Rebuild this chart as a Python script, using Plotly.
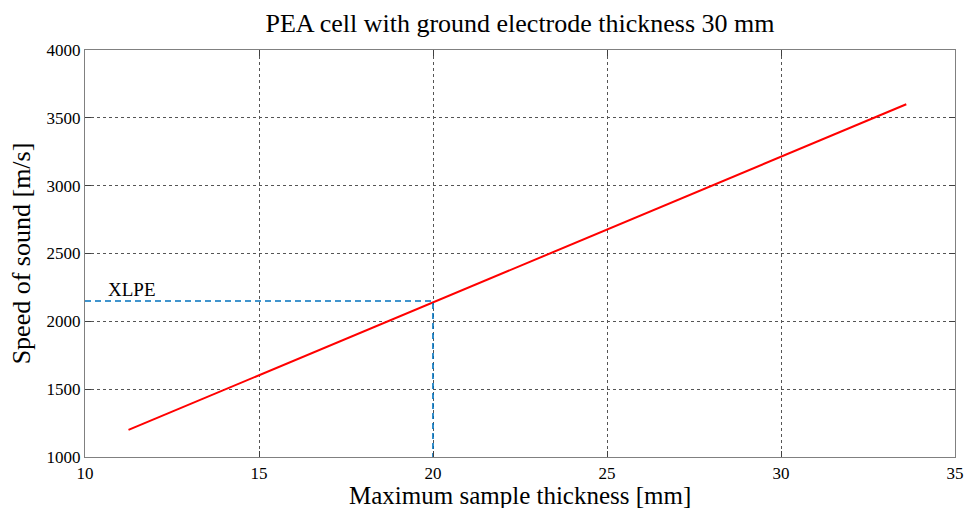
import plotly.graph_objects as go

# Sample thickness [mm] vs. speed of sound [m/s]
thickness_mm = [11.25, 33.6]
speed_ms = [1200, 3600]

# XLPE reference point
xlpe_thickness = 20
xlpe_speed = 2150
xlpe_label = "XLPE"

x_range = [10, 35]
y_range = [1000, 4000]
x_ticks = [10, 15, 20, 25, 30, 35]
y_ticks = [1000, 1500, 2000, 2500, 3000, 3500, 4000]

FONT = "Liberation Serif"
BLUE = "#0072BD"

fig = go.Figure()

fig.add_trace(go.Scatter(
    x=thickness_mm, y=speed_ms, mode="lines",
    line=dict(color="#FF0000", width=2), showlegend=False,
))

# dashed guide lines for XLPE
fig.add_trace(go.Scatter(
    x=[x_range[0], xlpe_thickness, xlpe_thickness],
    y=[xlpe_speed, xlpe_speed, y_range[0]],
    mode="lines", line=dict(color=BLUE, width=1.6, dash="6px,4px"),
    showlegend=False,
))

fig.add_annotation(
    x=10.6, y=xlpe_speed, text=xlpe_label, showarrow=False,
    xanchor="left", yanchor="bottom", yshift=-1,
    font=dict(family=FONT, size=19, color="black"),
)

axis_common = dict(
    showline=True, linecolor="#808080", linewidth=1.2, mirror="ticks",
    ticks="inside", ticklen=6, tickcolor="#404040", tickwidth=1,
    showgrid=True, gridcolor="#555555", griddash="dot", gridwidth=1,
    zeroline=False, automargin=False,
    tickfont=dict(family=FONT, size=17, color="black"),
)

fig.update_xaxes(range=x_range, tickvals=x_ticks, **axis_common)
fig.update_yaxes(
    range=y_range, tickvals=y_ticks, **axis_common,
    title=dict(text="Speed of sound [m/s]", standoff=8,
               font=dict(family=FONT, size=26, color="black")),
)

# x-axis title placed below the tick labels
fig.add_annotation(
    text="Maximum sample thickness [mm]", showarrow=False,
    xref="paper", yref="paper", x=0.5, y=0, yshift=-38,
    xanchor="center", yanchor="middle",
    font=dict(family=FONT, size=25, color="black"),
)

fig.update_layout(
    width=967, height=508,
    margin=dict(l=85, r=12, t=50, b=51),
    paper_bgcolor="white", plot_bgcolor="white",
    title=dict(text="PEA cell with ground electrode thickness 30 mm",
               x=(85 + 955) / 2 / 967, xanchor="center", y=0.955, yanchor="middle",
               font=dict(family=FONT, size=26, color="black")),
)

fig.write_html("out.html")
